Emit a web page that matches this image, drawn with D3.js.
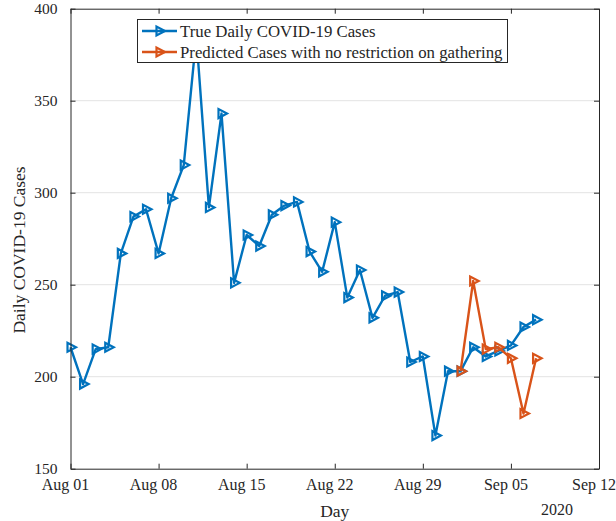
<!doctype html>
<html>
<head>
<meta charset="utf-8">
<title>Daily COVID-19 Cases</title>
<script src="https://cdnjs.cloudflare.com/ajax/libs/d3/7.8.5/d3.min.js"></script>
<style>
  body { margin: 0; background: #fff; }
  text { font-family: "Liberation Serif", "Times New Roman", serif; fill: #262626; }
</style>
</head>
<body>
<div id="chart"></div>
<script>
// data
const trueStart = "2020-08-01";
const trueCases = [216,196,215,216,267,287,291,267,297,315,385,292,343,251,277,271,288,293,
  295,268,257,284,243,258,232,244,246,208,211,168,203,203,216,211,214,217,227,231];
const predStart = "2020-09-01";
const predCases = [203,252,215,216,210,180,210];
const xTickDates = ["2020-08-01","2020-08-08","2020-08-15","2020-08-22","2020-08-29","2020-09-05","2020-09-12"];
const yTicks = [150,200,250,300,350,400];
const seriesNames = ["True Daily COVID-19 Cases", "Predicted Cases with no restriction on gathering"];
const colors = ["#0072BD", "#D95319"];

const W = 616, H = 521;
const pL = 70.5, pR = 599, pT = 8.7, pB = 468.7;

const parse = d3.utcParse("%Y-%m-%d");
const dayMs = 864e5;
const mk = (start, vals) => vals.map((v, i) => ({ date: new Date(parse(start).getTime() + i * dayMs), v }));
const trueData = mk(trueStart, trueCases);
const predData = mk(predStart, predCases);

const x = d3.scaleUtc().domain([parse("2020-08-01"), parse("2020-09-12")]).range([pL, pR]);
const y = d3.scaleLinear().domain([150, 400]).range([pB, pT]);

const svg = d3.select("#chart").append("svg").attr("width", W).attr("height", H);

// grid
svg.append("g").selectAll("line").data(yTicks.slice(1, -1)).join("line")
  .attr("x1", pL).attr("x2", pR)
  .attr("y1", d => y(d)).attr("y2", d => y(d))
  .attr("stroke", "#e3e3e3").attr("stroke-width", 1);

// series
const line = d3.line().x(d => x(d.date)).y(d => y(d.v));
const tri = "M-3,-4.5L-3,4.5L5.5,0Z";
[trueData, predData].forEach((data, k) => {
  const g = svg.append("g");
  g.append("path").datum(data).attr("d", line)
    .attr("fill", "none").attr("stroke", colors[k]).attr("stroke-width", 2.4).attr("stroke-linejoin", "round");
  g.selectAll("path.m").data(data).join("path").attr("class", "m")
    .attr("d", tri)
    .attr("transform", d => `translate(${x(d.date)},${y(d.v)})`)
    .attr("fill", "none").attr("stroke", colors[k]).attr("stroke-width", 2.2);
});

// axes (box with inward ticks)
const xTicks = xTickDates.map(parse);
const axisCol = "#262626";
const xAxis = d3.axisBottom(x).tickValues(xTicks).tickSizeInner(-5).tickSizeOuter(0).tickFormat("");
const xAxisTop = d3.axisTop(x).tickValues(xTicks).tickSizeInner(-5).tickSizeOuter(0).tickFormat("");
const yAxis = d3.axisLeft(y).tickValues(yTicks).tickSizeInner(-5).tickSizeOuter(0).tickFormat("");
const yAxisR = d3.axisRight(y).tickValues(yTicks).tickSizeInner(-5).tickSizeOuter(0).tickFormat("");
[[xAxis, `translate(0,${pB})`], [xAxisTop, `translate(0,${pT})`],
 [yAxis, `translate(${pL},0)`], [yAxisR, `translate(${pR},0)`]].forEach(([ax, tr]) => {
  const g = svg.append("g").attr("transform", tr).call(ax);
  g.selectAll("path,line").attr("stroke", axisCol).attr("stroke-width", 1);
});

// tick labels
const fmt = d3.utcFormat("%b %d");
svg.append("g").selectAll("text").data(xTicks).join("text")
  .attr("x", d => x(d) - 5).attr("y", pB + 21)
  .attr("text-anchor", "middle").attr("font-size", 16).text(d => fmt(d));
svg.append("g").selectAll("text").data(yTicks).join("text")
  .attr("x", pL - 13).attr("y", d => y(d) + 5)
  .attr("text-anchor", "end").attr("font-size", 15.5).text(d => d);

svg.append("text").attr("x", 557).attr("y", 515).attr("text-anchor", "middle").attr("font-size", 16).text("2020");
svg.append("text").attr("x", (pL + pR) / 2).attr("y", 517).attr("text-anchor", "middle").attr("font-size", 17.5).text("Day");
svg.append("text").attr("transform", "translate(25,250) rotate(-90)")
  .attr("text-anchor", "middle").attr("font-size", 17.5).text("Daily COVID-19 Cases");

// legend
const lg = svg.append("g");
lg.append("rect").attr("x", 137.5).attr("y", 19.5).attr("width", 370).attr("height", 43)
  .attr("fill", "#fff").attr("stroke", axisCol).attr("stroke-width", 1);
seriesNames.forEach((name, k) => {
  const yy = 31 + k * 21;
  lg.append("line").attr("x1", 142).attr("x2", 177).attr("y1", yy).attr("y2", yy)
    .attr("stroke", colors[k]).attr("stroke-width", 2.4);
  lg.append("path").attr("d", tri).attr("transform", `translate(159.5,${yy})`)
    .attr("fill", "none").attr("stroke", colors[k]).attr("stroke-width", 2.2);
  lg.append("text").attr("x", 180).attr("y", yy + 5.5).attr("font-size", 16.8).text(name);
});
</script>
</body>
</html>
